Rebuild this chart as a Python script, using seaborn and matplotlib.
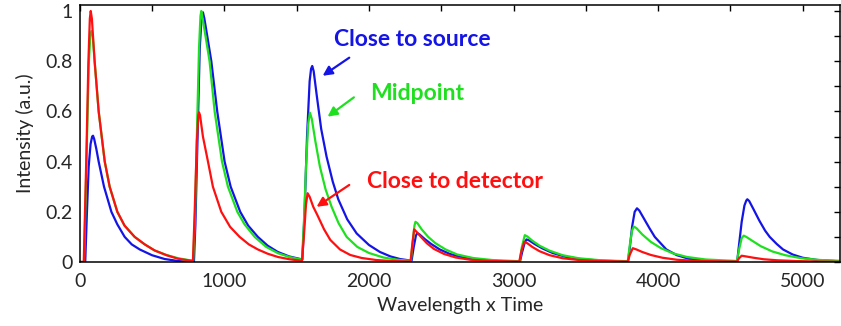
import pandas as pd
import seaborn as sns
import matplotlib
matplotlib.use("Agg")
from matplotlib import pyplot as plt
from matplotlib.ticker import MultipleLocator

# values (x = wavelength x time, y = intensity)
source_x = [0, 38, 50, 62, 75, 86, 92, 100, 115, 131, 168, 219, 260, 311, 360, 415, 500, 587, 680, 749,
            790, 800, 815, 830, 842, 852, 862, 882, 910, 951, 1002, 1044, 1110, 1165, 1232, 1300, 1370, 1450, 1540,
            1555, 1572, 1590, 1600, 1608, 1618, 1640, 1670, 1707, 1750, 1788, 1850, 1915, 2000, 2076, 2150, 2214, 2295,
            2310, 2325, 2334, 2350, 2385, 2430, 2490, 2560, 2650, 2760, 2900, 3045,
            3060, 3078, 3090, 3108, 3145, 3200, 3270, 3360, 3470, 3620, 3792,
            3805, 3820, 3838, 3854, 3870, 3900, 3940, 3977, 4057, 4130, 4219, 4330, 4547,
            4560, 4578, 4597, 4610, 4617, 4630, 4660, 4700, 4740, 4772, 4820, 4864, 4930, 5000, 5100, 5250]
source_y = [0, 0, 0.2, 0.38, 0.47, 0.5, 0.503, 0.49, 0.45, 0.4, 0.3, 0.2, 0.15, 0.1, 0.07, 0.05, 0.027, 0.012, 0.004, 0.001,
            0.001, 0.15, 0.5, 0.85, 0.97, 0.995, 0.97, 0.9, 0.8, 0.6, 0.4, 0.3, 0.2, 0.145, 0.1, 0.065, 0.04, 0.022, 0.01,
            0.2, 0.5, 0.72, 0.77, 0.781, 0.76, 0.66, 0.53, 0.42, 0.32, 0.25, 0.17, 0.114, 0.068, 0.04, 0.022, 0.012, 0.005,
            0.06, 0.105, 0.115, 0.11, 0.092, 0.072, 0.05, 0.032, 0.018, 0.009, 0.004, 0.002,
            0.04, 0.078, 0.09, 0.086, 0.072, 0.054, 0.036, 0.021, 0.011, 0.005, 0.002,
            0.06, 0.14, 0.2, 0.214, 0.205, 0.175, 0.135, 0.1, 0.05, 0.027, 0.012, 0.005, 0.002,
            0.07, 0.16, 0.225, 0.245, 0.25, 0.243, 0.21, 0.165, 0.125, 0.1, 0.072, 0.05, 0.03, 0.017, 0.008, 0.003]

mid_x = [0, 30, 47, 62, 73, 81, 90, 103, 131, 173, 207, 260, 310, 380, 450, 518, 600, 680, 770,
         785, 798, 812, 825, 835, 841, 850, 870, 898, 933, 984, 1025, 1090, 1140, 1210, 1290, 1371, 1450, 1530,
         1537, 1550, 1565, 1580, 1592, 1605, 1630, 1661, 1700, 1742, 1790, 1846, 1920, 2000, 2100, 2200, 2290,
         2303, 2315, 2322, 2335, 2365, 2410, 2460, 2530, 2610, 2720, 2850, 3043,
         3058, 3078, 3095, 3130, 3180, 3250, 3340, 3450, 3600, 3790,
         3805, 3820, 3832, 3850, 3890, 3950, 4020, 4100, 4200, 4330, 4545,
         4560, 4578, 4592, 4610, 4650, 4710, 4790, 4880, 4990, 5120, 5250]
mid_y = [0, 0, 0.4, 0.78, 0.9, 0.92, 0.9, 0.8, 0.6, 0.4, 0.3, 0.2, 0.145, 0.1, 0.07, 0.046, 0.028, 0.015, 0.006,
         0.006, 0.2, 0.55, 0.85, 0.98, 1.0, 0.97, 0.9, 0.8, 0.6, 0.4, 0.3, 0.2, 0.15, 0.1, 0.06, 0.035, 0.02, 0.01,
         0.01, 0.15, 0.38, 0.55, 0.595, 0.57, 0.48, 0.38, 0.29, 0.22, 0.155, 0.1, 0.06, 0.036, 0.018, 0.009, 0.005,
         0.08, 0.145, 0.16, 0.155, 0.13, 0.1, 0.075, 0.05, 0.03, 0.016, 0.008, 0.003,
         0.06, 0.107, 0.102, 0.085, 0.065, 0.045, 0.027, 0.015, 0.007, 0.003,
         0.07, 0.125, 0.141, 0.135, 0.11, 0.08, 0.055, 0.035, 0.02, 0.01, 0.004,
         0.05, 0.095, 0.105, 0.1, 0.085, 0.063, 0.042, 0.027, 0.015, 0.008, 0.005]

detector_x = [0, 28, 45, 60, 70, 76, 84, 103, 131, 173, 207, 260, 310, 380, 450, 518, 600, 680, 770,
              783, 795, 810, 820, 825, 832, 852, 887, 921, 979, 1040, 1106, 1170, 1232, 1300, 1371, 1450, 1530,
              1537, 1550, 1565, 1576, 1590, 1615, 1641, 1690, 1733, 1800, 1871, 1950, 2050, 2150, 2288,
              2300, 2313, 2330, 2360, 2400, 2450, 2520, 2600, 2700, 2850, 3040,
              3055, 3075, 3095, 3130, 3180, 3250, 3340, 3450, 3600, 3790,
              3805, 3825, 3850, 3890, 3950, 4030, 4130, 4250, 4400, 4545,
              4560, 4578, 4610, 4660, 4730, 4820, 4950, 5100, 5250]
detector_y = [0, 0, 0.4, 0.8, 0.97, 1.0, 0.97, 0.8, 0.6, 0.4, 0.3, 0.2, 0.145, 0.1, 0.07, 0.046, 0.027, 0.013, 0.005,
              0.005, 0.2, 0.48, 0.585, 0.596, 0.585, 0.5, 0.4, 0.3, 0.2, 0.14, 0.1, 0.07, 0.05, 0.033, 0.02, 0.011, 0.005,
              0.005, 0.1, 0.23, 0.274, 0.26, 0.22, 0.19, 0.13, 0.088, 0.05, 0.028, 0.016, 0.008, 0.004, 0.002,
              0.07, 0.13, 0.12, 0.1, 0.075, 0.052, 0.032, 0.018, 0.009, 0.004, 0.002,
              0.045, 0.081, 0.075, 0.06, 0.043, 0.027, 0.015, 0.008, 0.004, 0.002,
              0.03, 0.055, 0.05, 0.04, 0.028, 0.017, 0.009, 0.005, 0.003, 0.002,
              0.015, 0.025, 0.022, 0.017, 0.011, 0.007, 0.004, 0.002, 0.001]

series_names = ["Close to source", "Midpoint", "Close to detector"]
series_colors = ["#1414e6", "#1fe01f", "#ff1010"]

y_ticks = [0, 0.2, 0.4, 0.6, 0.8, 1.0]
y_tick_labels = ["0", "0.2", "0.4", "0.6", "0.8", "1"]


def main():
    frames = []
    for name, xs, ys in zip(series_names,
                            [source_x, mid_x, detector_x],
                            [source_y, mid_y, detector_y]):
        frames.append(pd.DataFrame({"x": xs, "y": ys, "series": name}))
    df = pd.concat(frames, ignore_index=True)

    sns.set_style("white")
    plt.rcParams["font.family"] = ["Lato", "DejaVu Sans"]

    fig = plt.figure(figsize=(8.41, 3.26), dpi=100)
    ax = fig.add_axes([0.0948, 0.1963, 0.9035, 0.7884])

    # blue first, red last so red lies on top like the original
    sns.lineplot(data=df, x="x", y="y", hue="series", hue_order=series_names,
                 palette=dict(zip(series_names, series_colors)),
                 estimator=None, sort=False, linewidth=1.6, legend=False, ax=ax)

    ax.set_xlim(0, 5255)
    ax.set_ylim(0, 1.024)
    ax.xaxis.set_major_locator(MultipleLocator(1000))
    ax.xaxis.set_minor_locator(MultipleLocator(500))
    ax.set_yticks(y_ticks)
    ax.set_yticklabels(y_tick_labels)
    ax.yaxis.set_minor_locator(MultipleLocator(0.1))
    ax.tick_params(which="both", direction="in", top=True, right=True,
                   length=4.5, width=1.0, color="black", labelsize=14)
    ax.tick_params(axis="x", pad=8)
    ax.tick_params(axis="y", pad=5)
    for side in ax.spines.values():
        side.set_color("black")
        side.set_linewidth(1.1)

    ax.set_xlabel("Wavelength x Time", fontsize=14, labelpad=5)
    ax.set_ylabel("Intensity (a.u.)", fontsize=14, labelpad=8)

    # labels with arrows pointing at the third pulse
    notes = [("Close to source", 2297, 0.86, 1864, 0.814, 1680, 0.742),
             ("Midpoint", 2332, 0.644, 1896, 0.656, 1714, 0.579),
             ("Close to detector", 2594, 0.293, 1864, 0.307, 1638, 0.22)]
    for (text, tx, ty, ax0, ay0, ax1, ay1), col in zip(notes, series_colors):
        ax.text(tx, ty, text, color=col, fontsize=16.5, fontweight="bold",
                ha="center", va="baseline")
        ax.annotate("", xy=(ax1, ay1), xytext=(ax0, ay0),
                    arrowprops=dict(arrowstyle="-|>", color=col, lw=1.6,
                                    mutation_scale=14, shrinkA=0, shrinkB=0))

    fig.savefig("out.png", dpi=100)


main()
